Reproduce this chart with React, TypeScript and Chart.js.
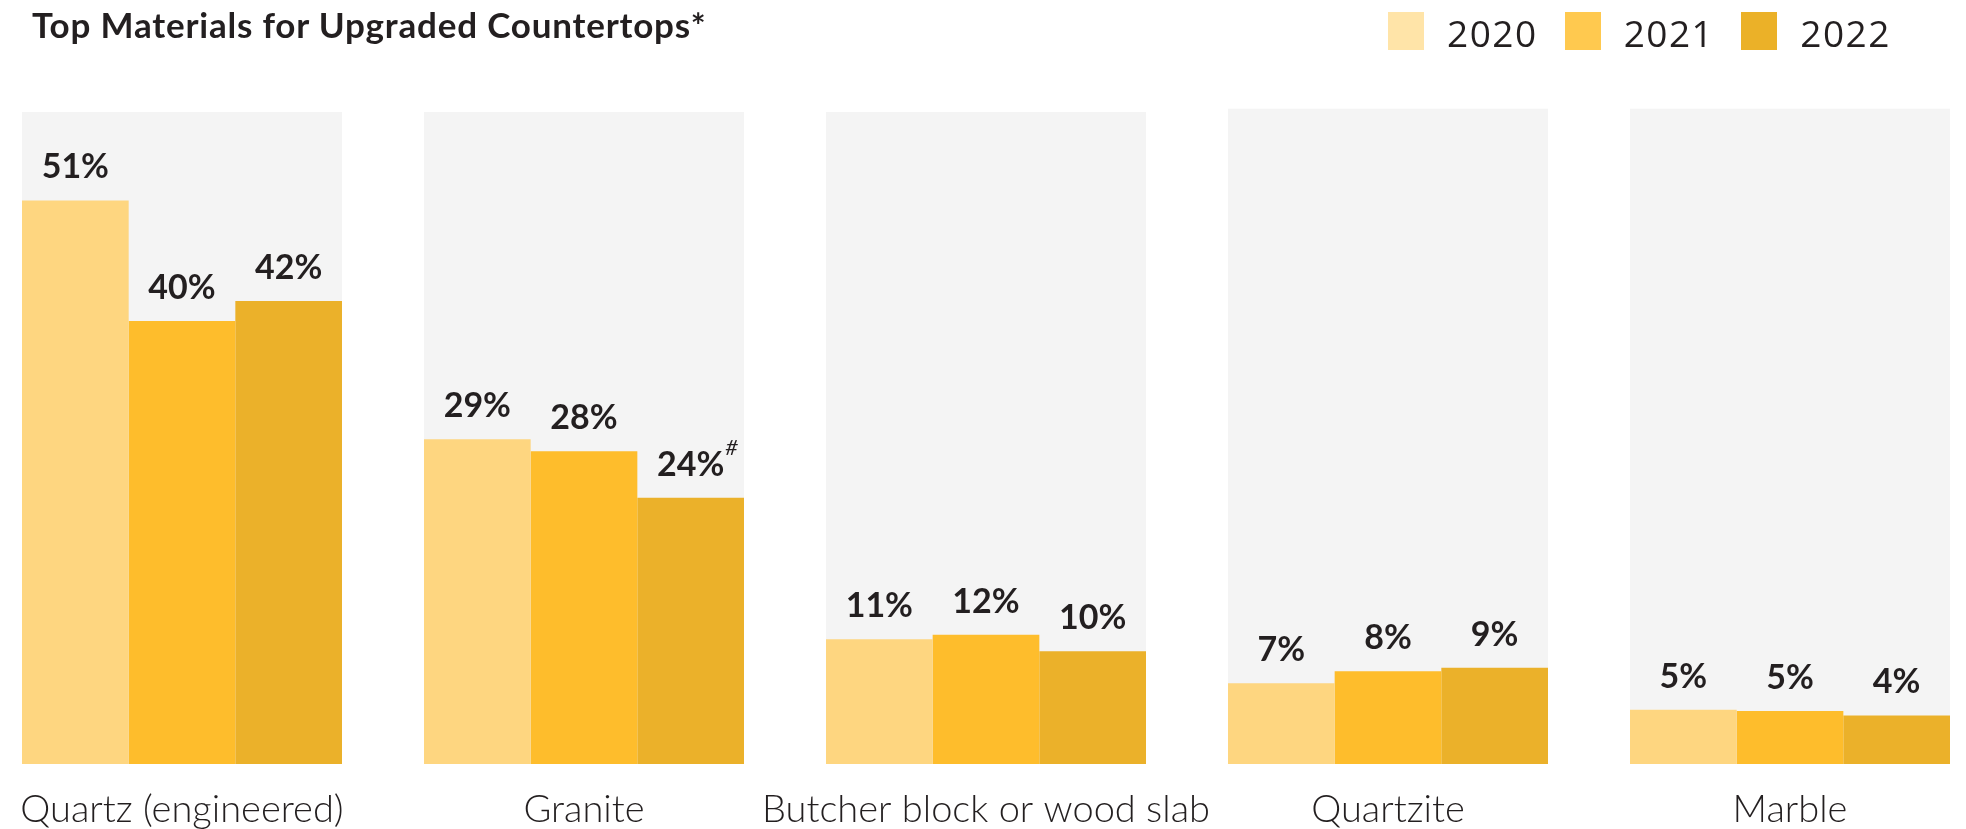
import React, { useEffect, useRef } from "react";
import { Chart, registerables } from "chart.js";

Chart.register(...registerables);

// ---- data ----
const categories = ["Quartz (engineered)", "Granite", "Butcher block or wood slab", "Quartzite", "Marble"];
const seriesLabels = ["2020", "2021", "2022"];
const values2020 = [51.0, 29.4, 11.3, 7.3, 4.9];
const values2021 = [40.1, 28.3, 11.7, 8.4, 4.8];
const values2022 = [41.9, 24.1, 10.2, 8.7, 4.4];
const notes2020 = ["", "", "", "", ""];
const notes2021 = ["", "", "", "", ""];
const notes2022 = ["", "#", "", "", ""];
const panelValues = [59, 59, 59, 59.3, 59.3];
const chartTitle = "Top Materials for Upgraded Countertops*";

// ---- styles ----
const barColors = ["#FED680", "#FEBD2C", "#EBB12A"];
const legendColors = ["#FFE4A8", "#FFC94F", "#EBB128"];
const panelColor = "#F4F4F4";
const textColor = "#231F20";

const series = [values2020, values2021, values2022];
const seriesNotes = [notes2020, notes2021, notes2022];

const Y_MAX = 60;

// grey background panel behind each category group, placed with the chart's own scales
const panelPlugin = {
  id: "panels",
  beforeDatasetsDraw(chart: any) {
    const ctx = chart.ctx;
    const y = chart.scales.y;
    const first = chart.getDatasetMeta(0).data;
    const last = chart.getDatasetMeta(series.length - 1).data;
    ctx.save();
    ctx.fillStyle = panelColor;
    panelValues.forEach((v, i) => {
      const a: any = first[i];
      const b: any = last[i];
      if (!a || !b) return;
      const left = a.x - a.width / 2;
      const right = b.x + b.width / 2;
      const top = y.getPixelForValue(v);
      const bottom = y.getPixelForValue(0);
      ctx.fillRect(left, top, right - left, bottom - top);
    });
    ctx.restore();
  },
};

const valueLabelPlugin = {
  id: "valueLabels",
  afterDatasetsDraw(chart: any) {
    const ctx = chart.ctx;
    ctx.save();
    series.forEach((vals, s) => {
      const meta = chart.getDatasetMeta(s);
      meta.data.forEach((el: any, i: number) => {
        const text = Math.round(vals[i]) + "%";
        ctx.font = "700 34px Lato";
        ctx.fillStyle = textColor;
        ctx.textAlign = "center";
        ctx.textBaseline = "alphabetic";
        const y = el.y - 22;
        ctx.fillText(text, el.x, y);
        const note = seriesNotes[s][i];
        if (note) {
          const w = ctx.measureText(text).width;
          ctx.font = "italic 400 22px Lato";
          ctx.textAlign = "left";
          ctx.fillText(note, el.x + w / 2 + 1, y - 21);
        }
      });
    });
    ctx.restore();
  },
};

export default function App() {
  const canvasRef = useRef<HTMLCanvasElement | null>(null);

  useEffect(() => {
    document.body.style.margin = "0";
    document.body.style.overflow = "hidden";
    const canvas = canvasRef.current;
    if (!canvas) return;
    const chart = new Chart(canvas, {
      type: "bar",
      data: {
        labels: categories,
        datasets: series.map((vals, s) => ({
          label: seriesLabels[s],
          data: vals,
          backgroundColor: barColors[s],
          borderWidth: 0,
          categoryPercentage: 0.796,
          barPercentage: 1,
          clip: false,
        })) as any,
      },
      options: {
        animation: false,
        responsive: false,
        maintainAspectRatio: false,
        devicePixelRatio: 1,
        layout: { padding: { top: 101, left: 182, right: 176, bottom: 0 } },
        plugins: {
          legend: { display: false },
          title: { display: false },
          tooltip: { enabled: false },
        },
        scales: {
          x: {
            type: "category",
            offset: false,
            grid: { display: false, drawTicks: false, offset: false },
            border: { display: false },
            ticks: {
              autoSkip: false,
              maxRotation: 0,
              minRotation: 0,
              padding: 23,
              color: textColor,
              font: { family: "Lato", size: 38, weight: "300" },
            },
            afterFit: (s: any) => {
              s.height = 65;
              s.paddingLeft = 0;
              s.paddingRight = 0;
            },
          },
          y: { display: false, min: 0, max: Y_MAX },
        } as any,
      },
      plugins: [panelPlugin, valueLabelPlugin],
    });
    return () => chart.destroy();
  }, []);

  return (
    <div style={{ position: "relative", width: 1966, height: 829, background: "#fff" }}>
      <canvas ref={canvasRef} width={1966} height={829} style={{ display: "block" }} />
      <div
        style={{
          position: "absolute",
          left: 32,
          top: 7,
          fontFamily: "Lato",
          fontWeight: 700,
          fontSize: 35,
          letterSpacing: "0.8px",
          lineHeight: 1,
          color: textColor,
          whiteSpace: "nowrap",
        }}
      >
        {chartTitle}
      </div>
      <div
        style={{
          position: "absolute",
          left: 1388,
          top: 12,
          display: "flex",
          alignItems: "center",
          fontFamily: '"Open Sans"',
          fontSize: 37,
          letterSpacing: "1.5px",
          color: textColor,
          whiteSpace: "nowrap",
        }}
      >
        {seriesLabels.map((l, i) => (
          <div key={l} style={{ display: "flex", alignItems: "center", marginRight: 27 }}>
            <span style={{ display: "inline-block", width: 36, height: 38, background: legendColors[i], marginRight: 23 }} />
            <span style={{ lineHeight: "38px", position: "relative", top: 2 }}>{l}</span>
          </div>
        ))}
      </div>
    </div>
  );
}
